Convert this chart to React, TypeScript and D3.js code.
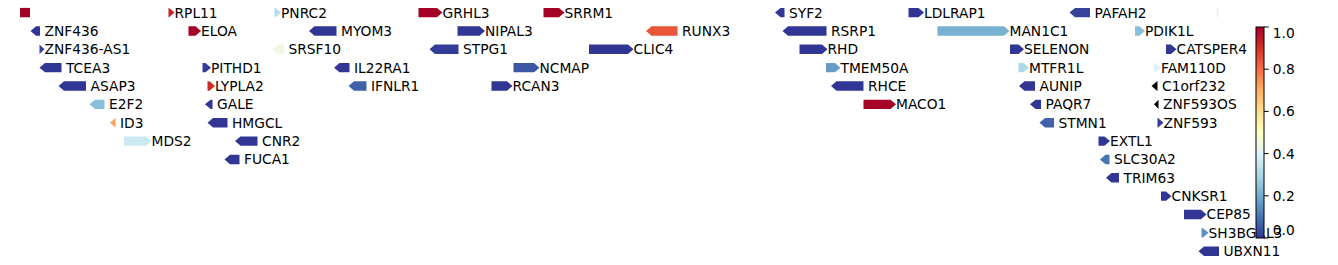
import React from "react";
import * as d3 from "d3";

const WIDTH = 1338;
const HEIGHT = 265;

const geneNames = [
  "", "RPL11", "PNRC2", "GRHL3", "SRRM1", "SYF2", "LDLRAP1", "PAFAH2", "",
  "ZNF436", "ELOA", "MYOM3", "NIPAL3", "RUNX3", "RSRP1", "MAN1C1", "PDIK1L",
  "ZNF436-AS1", "SRSF10", "STPG1", "CLIC4", "RHD", "SELENON", "CATSPER4",
  "TCEA3", "PITHD1", "IL22RA1", "NCMAP", "TMEM50A", "MTFR1L", "FAM110D",
  "ASAP3", "LYPLA2", "IFNLR1", "RCAN3", "RHCE", "AUNIP", "C1orf232",
  "E2F2", "GALE", "MACO1", "PAQR7", "ZNF593OS",
  "ID3", "HMGCL", "STMN1", "ZNF593",
  "MDS2", "CNR2", "EXTL1",
  "FUCA1", "SLC30A2",
  "TRIM63",
  "CNKSR1",
  "CEP85",
  "SH3BGRL3",
  "UBXN11",
];
const geneStarts = [
  20, 168.5, 274.5, 418.5, 543.5, 775, 908.5, 1069.5, 1216.8,
  30.5, 188.5, 309, 457.5, 646, 782.5, 937.5, 1135,
  39.5, 272.5, 429.5, 589, 799.5, 1010, 1166,
  39.5, 202.5, 334, 513.5, 826, 1018.5, 1154,
  58.5, 207.5, 348.5, 491.5, 831, 1019, 1151.5,
  89.5, 205, 863.5, 1030, 1154,
  110, 207.5, 1039.5, 1157.5,
  124, 235, 1098.5,
  224.5, 1100,
  1106,
  1161,
  1184,
  1201.5,
  1198.5,
];
const geneEnds = [
  30, 174.5, 281, 442.5, 564.5, 784.5, 924, 1090, 1217.8,
  40, 201, 336.5, 485, 677.5, 826.5, 1009.5, 1145,
  44.5, 284, 458.5, 633.5, 827.5, 1024, 1176.5,
  61.5, 211, 349.5, 539.5, 840.5, 1029, 1161,
  86, 215, 366.5, 512.5, 863.5, 1035, 1157.5,
  104.5, 212.5, 896, 1041, 1158.5,
  115.5, 227.5, 1054, 1163.5,
  151.5, 257.5, 1110,
  239.5, 1109.5,
  1119,
  1171.5,
  1206.5,
  1208.5,
  1219,
];
// 1 = plus, -1 = minus, 0 = no direction
const geneStrands = [
  0, 1, 1, 1, 1, -1, 1, -1, 0,
  -1, 1, -1, 1, -1, -1, 1, 1,
  1, -1, -1, 1, 1, 1, 1,
  -1, 1, -1, 1, 1, 1, 1,
  -1, 1, -1, 1, -1, -1, -1,
  -1, -1, 1, -1, -1,
  -1, -1, -1, 1,
  1, -1, 1,
  -1, -1,
  -1,
  1,
  1,
  1,
  -1,
];
const geneRows = [
  0, 0, 0, 0, 0, 0, 0, 0, 0,
  1, 1, 1, 1, 1, 1, 1, 1,
  2, 2, 2, 2, 2, 2, 2,
  3, 3, 3, 3, 3, 3, 3,
  4, 4, 4, 4, 4, 4, 4,
  5, 5, 5, 5, 5,
  6, 6, 6, 6,
  7, 7, 7,
  8, 8,
  9,
  10,
  11,
  12,
  13,
];
const geneValues: (number | null)[] = [
  1.0, 0.93, 0.32, 1.0, 1.0, 0, 0, 0.02, 0.38,
  0, 1.0, 0, 0, 0.84, 0, 0.21, 0.24,
  0.02, 0.44, 0.01, 0, 0, 0, 0,
  0, 0.01, 0, 0.05, 0.17, 0.3, 0.4,
  0, 0.91, 0.07, 0, 0, 0, null,
  0.24, 0, 1.0, 0, null,
  0.72, 0, 0.07, 0.01,
  0.36, 0, 0,
  0, 0.1,
  0,
  0,
  0,
  0.15,
  0,
];

const cmapColors = [
  "#313695", "#4575b4", "#74add1", "#abd9e9", "#e0f3f8", "#ffffbf",
  "#fee090", "#fdae61", "#f46d43", "#d73027", "#a50026",
];
const colorTicks = [0, 0.2, 0.4, 0.6, 0.8, 1.0];

const FONT = "DejaVu Sans, Verdana, sans-serif";
const FS = 13.8;

export default function App() {
  const x = d3.scaleLinear().domain([20, 1220]).range([20, 1220]);
  const y = d3.scaleLinear().domain([0, 13]).range([12.6, 251.2]);
  const color = d3
    .scaleLinear<string>()
    .domain(d3.range(cmapColors.length).map((i) => i / (cmapColors.length - 1)))
    .range(cmapColors)
    .interpolate(d3.interpolateRgb)
    .clamp(true);

  const h = 9.4;
  const headLen = 5.5;

  const genes = geneNames.map((name, i) => ({
    name,
    start: geneStarts[i],
    end: geneEnds[i],
    strand: geneStrands[i],
    row: geneRows[i],
    value: geneValues[i],
  }));

  const shape = (g: (typeof genes)[number]) => {
    const x0 = x(g.start);
    const x1 = x(g.end);
    const cy = y(g.row);
    const top = cy - h / 2;
    const bot = cy + h / 2;
    const hl = Math.min(headLen, x1 - x0);
    let pts: [number, number][];
    if (g.strand === 1) {
      pts = [
        [x0, top],
        [x1 - hl, top],
        [x1, cy],
        [x1 - hl, bot],
        [x0, bot],
      ];
    } else if (g.strand === -1) {
      pts = [
        [x1, top],
        [x0 + hl, top],
        [x0, cy],
        [x0 + hl, bot],
        [x1, bot],
      ];
    } else {
      pts = [
        [x0, top],
        [x1, top],
        [x1, bot],
        [x0, bot],
      ];
    }
    return "M" + pts.map((p) => p.join(",")).join("L") + "Z";
  };

  // colorbar
  const cbX = 1256;
  const cbW = 8;
  const cbScale = d3.scaleLinear().domain([0, 1]).range([238, 27]);
  const labelY = (t: number) => {
    if (t === 1) return cbScale(t) + 5.5;
    if (t === 0) return cbScale(t) - 8;
    return cbScale(t);
  };

  return (
    <svg
      width={WIDTH}
      height={HEIGHT}
      style={{ position: "absolute", left: 0, top: 0, background: "#fff" }}
      fontFamily={FONT}
    >
      <defs>
        <linearGradient id="cbgrad" x1="0" y1="1" x2="0" y2="0">
          {cmapColors.map((c, i) => (
            <stop key={i} offset={`${(i / (cmapColors.length - 1)) * 100}%`} stopColor={c} />
          ))}
        </linearGradient>
      </defs>
      <rect x={0} y={0} width={WIDTH} height={HEIGHT} fill="#fff" />
      <g>
        {genes.map((g, i) => (
          <path key={i} d={shape(g)} fill={g.value === null ? "#000" : color(g.value)} />
        ))}
      </g>
      <g fontSize={FS} fill="#000">
        {genes.map((g, i) =>
          g.name ? (
            <text
              key={i}
              x={x(g.end) + (g.strand === 1 ? 0 : 4.5)}
              y={y(g.row) + 5}
            >
              {g.name}
            </text>
          ) : null
        )}
      </g>
      <g>
        <rect x={cbX} y={cbScale(1)} width={cbW} height={cbScale(0) - cbScale(1)} fill="url(#cbgrad)" />
        <rect
          x={cbX}
          y={cbScale(1)}
          width={cbW}
          height={cbScale(0) - cbScale(1)}
          fill="none"
          stroke="#000"
          strokeWidth={1}
        />
        {colorTicks.map((t) => (
          <g key={t}>
            <line x1={cbX + cbW} x2={cbX + cbW + 4.7} y1={cbScale(t)} y2={cbScale(t)} stroke="#000" strokeWidth={1} />
            <text x={cbX + cbW + 8.8} y={labelY(t) + 5} fontSize={FS} fill="#000">
              {d3.format(".1f")(t)}
            </text>
          </g>
        ))}
      </g>
    </svg>
  );
}
